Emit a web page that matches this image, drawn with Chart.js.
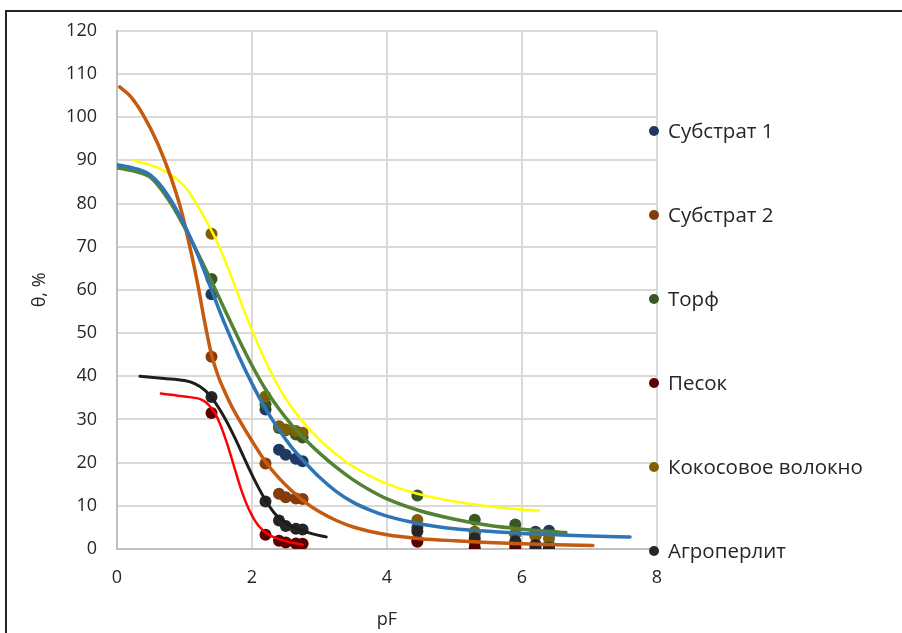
<!DOCTYPE html>
<html>
<head>
<meta charset="utf-8">
<script src="https://cdn.jsdelivr.net/npm/chart.js@4"></script>
<style>
  html, body { margin: 0; padding: 0; background: #fff; }
  #wrap { position: relative; width: 902px; height: 633px; }
  canvas { display: block; }
</style>
</head>
<body>
<div id="wrap"><canvas id="c" width="902" height="633"></canvas></div>
<script>
// ---- Data ----
const seriesNames = ['Субстрат 1', 'Субстрат 2', 'Торф', 'Песок', 'Кокосовое волокно', 'Агроперлит'];
const pF = [1.4, 2.2, 2.4, 2.5, 2.65, 2.75, 4.45, 5.3, 5.9, 6.2, 6.4];
const substrat1 = [59, 32.3, 23, 21.8, 20.9, 20.3, 5, 3.6, 3.5, 4, 4.2];
const substrat2 = [44.5, 19.8, 12.8, 12, 11.7, 11.6, 2, 1.5, 1, 1, 0.8];
const torf = [62.5, 33.5, 28, 27.5, 26.5, 25.8, 12.4, 6.8, 5.7, 3, 0.9];
const pesok = [31.5, 3.3, 1.9, 1.5, 1.3, 1.2, 1.7, 0.3, 0.3, 0.3, 0.2];
const kokos = [73, 35.3, 28.4, 27.7, 27.3, 26.9, 6.7, 4, 3.5, 3, 2.5];
const agroperlit = [35.2, 11, 6.6, 5.3, 4.7, 4.5, 4.1, 2.5, 1.8, 0.9, 0.3];

// Fitted curves
const fit1X = [0, 0.25, 0.5, 0.75, 1.0, 1.2, 1.4, 1.6, 1.8, 2.0, 2.2, 2.4, 2.6, 2.8, 3.0, 3.25, 3.5, 3.75, 4.0, 4.5, 5.0, 5.5, 6.0, 6.5, 7.0, 7.6];
const fit1Y = [89, 88.2, 86.5, 82, 75, 68, 60, 52, 44.8, 38.3, 32.5, 27.6, 23.3, 19.8, 16.6, 13.3, 10.8, 9, 7.6, 5.8, 4.7, 4.1, 3.6, 3.3, 3.0, 2.8];
const fit2X = [0.04, 0.2, 0.4, 0.6, 0.8, 0.95, 1.1, 1.2, 1.3, 1.4, 1.5, 1.6, 1.7, 1.8, 2.0, 2.2, 2.4, 2.6, 2.8, 3.0, 3.25, 3.5, 4.0, 4.5, 5.0, 5.5, 6.0, 6.5, 7.05];
const fit2Y = [107, 104.8, 100.2, 94, 86, 78.5, 68.5, 61, 52.5, 45, 40, 36.3, 33, 30.2, 25, 20.2, 16.4, 13.3, 10.7, 8.6, 6.6, 5.1, 3.3, 2.4, 1.9, 1.5, 1.2, 1.0, 0.8];
const fit3X = [0, 0.25, 0.5, 0.8, 1.1, 1.4, 1.6, 1.8, 2.0, 2.2, 2.4, 2.6, 2.8, 3.0, 3.25, 3.5, 3.75, 4.0, 4.5, 5.0, 5.5, 6.0, 6.65];
const fit3Y = [88.3, 87.5, 86, 80, 71.5, 62, 55.3, 48.7, 42.5, 37, 32.4, 28.5, 25.2, 22.2, 18.9, 16.0, 13.6, 11.6, 8.8, 6.9, 5.5, 4.6, 3.8];
const fit4X = [0.65, 1.0, 1.25, 1.35, 1.45, 1.55, 1.65, 1.75, 1.85, 1.95, 2.05, 2.15, 2.25, 2.4, 2.55, 2.75];
const fit4Y = [36, 35.3, 34.6, 33.5, 31.5, 28, 23.5, 18.3, 13.3, 9.3, 6.4, 4.5, 3.3, 2.3, 1.6, 1.0];
const fit5X = [0.24, 0.6, 1.0, 1.25, 1.5, 1.7, 1.9, 2.1, 2.3, 2.5, 2.75, 3.0, 3.25, 3.5, 3.75, 4.0, 4.45, 5.0, 5.4, 5.8, 6.25];
const fit5Y = [90, 88.3, 84, 78, 70.5, 62.8, 54.5, 47, 40.3, 34.8, 29.5, 25.3, 21.9, 19.1, 16.9, 15.1, 12.8, 11, 10.1, 9.4, 8.9];
const fit6X = [0.34, 0.7, 1.0, 1.15, 1.3, 1.45, 1.6, 1.75, 1.9, 2.05, 2.2, 2.35, 2.5, 2.7, 2.9, 3.1];
const fit6Y = [40, 39.5, 39, 38.3, 36.8, 34, 30.2, 25.6, 20.5, 15.6, 11.3, 8, 6, 4.5, 3.5, 2.8];

const xTicks = [0, 2, 4, 6, 8];
const yTicks = [0, 10, 20, 30, 40, 50, 60, 70, 80, 90, 100, 110, 120];

// ---- Styles ----
const markerColors = ['#203864', '#843C0C', '#385723', '#5C0000', '#7F6000', '#262626'];
const fitColors = ['#2E75B6', '#C55A11', '#548235', '#FF0000', '#FFFF00', '#1E1E1E'];
const fitWidths = [3.5, 3.5, 3.5, 2.5, 2.5, 3];
const FONT = '"Open Sans", "Noto Sans", sans-serif';
const TEXT = '#262626';

const seriesVals = [substrat1, substrat2, torf, pesok, kokos, agroperlit];
const fitXs = [fit1X, fit2X, fit3X, fit4X, fit5X, fit6X];
const fitYs = [fit1Y, fit2Y, fit3Y, fit4Y, fit5Y, fit6Y];

const datasets = [];
fitXs.forEach((xs, i) => {
  datasets.push({
    type: 'line',
    label: 'fit ' + seriesNames[i],
    data: xs.map((x, k) => ({ x: x, y: fitYs[i][k] })),
    borderColor: fitColors[i],
    borderWidth: fitWidths[i],
    pointRadius: 0,
    fill: false,
    cubicInterpolationMode: 'monotone',
    borderCapStyle: 'round',
    order: 0
  });
});
seriesVals.forEach((vals, i) => {
  datasets.push({
    type: 'scatter',
    label: seriesNames[i],
    data: pF.map((x, k) => ({ x: x, y: vals[k] })),
    backgroundColor: markerColors[i],
    borderColor: markerColors[i],
    borderWidth: 0,
    pointRadius: 6,
    showLine: false,
    order: 6 - i
  });
});

const framePlugin = {
  id: 'frame',
  beforeDraw(chart) {
    const ctx = chart.ctx;
    ctx.save();
    ctx.fillStyle = '#fff';
    ctx.fillRect(0, 0, chart.width, chart.height);
    ctx.strokeStyle = '#262626';
    ctx.lineWidth = 2;
    ctx.beginPath();
    ctx.moveTo(6, 2000);
    ctx.lineTo(6, 11);
    ctx.lineTo(2000, 11);
    ctx.stroke();
    ctx.restore();
  }
};

const legendPlugin = {
  id: 'customLegend',
  afterDraw(chart) {
    const ctx = chart.ctx;
    const area = chart.chartArea;
    ctx.save();
    ctx.font = '20.5px ' + FONT;
    ctx.textBaseline = 'middle';
    ctx.textAlign = 'left';
    const top = 131, step = 84;
    seriesNames.forEach((name, i) => {
      const y = top + i * step;
      ctx.fillStyle = markerColors[i];
      ctx.beginPath();
      ctx.arc(area.right - 3, y, 5, 0, Math.PI * 2);
      ctx.fill();
      ctx.fillStyle = TEXT;
      ctx.fillText(name, area.right + 11, y + 1);
    });
    ctx.restore();
  }
};

new Chart(document.getElementById('c'), {
  data: { datasets: datasets },
  options: {
    responsive: false,
    animation: false,
    devicePixelRatio: 1,
    layout: { padding: { left: 0, right: 245, top: 26, bottom: 0 } },
    plugins: { legend: { display: false }, tooltip: { enabled: false } },
    scales: {
      x: {
        type: 'linear',
        min: 0, max: 8,
        afterBuildTicks(scale) { scale.ticks = xTicks.map(v => ({ value: v })); },
        afterFit(scale) { scale.height = 84; },
        grid: { color: '#D9D9D9', lineWidth: 2, drawTicks: false },
        border: { color: '#BFBFBF', width: 2 },
        ticks: { color: TEXT, font: { family: FONT, size: 18 }, padding: 18 },
        title: { display: true, text: 'pF', color: TEXT, font: { family: FONT, size: 18 }, padding: { top: 0, bottom: 2 } }
      },
      y: {
        type: 'linear',
        min: 0, max: 120,
        afterBuildTicks(scale) { scale.ticks = yTicks.map(v => ({ value: v })); },
        afterFit(scale) { scale.width = 117; },
        grid: { color: '#D9D9D9', lineWidth: 2, drawTicks: false },
        border: { color: '#BFBFBF', width: 2 },
        ticks: { color: TEXT, font: { family: FONT, size: 18 }, padding: 20 },
        title: { display: true, text: 'θ, %', color: TEXT, font: { family: FONT, size: 18 }, padding: { top: 29, bottom: 0 } }
      }
    }
  },
  plugins: [framePlugin, legendPlugin]
});
</script>
</body>
</html>
